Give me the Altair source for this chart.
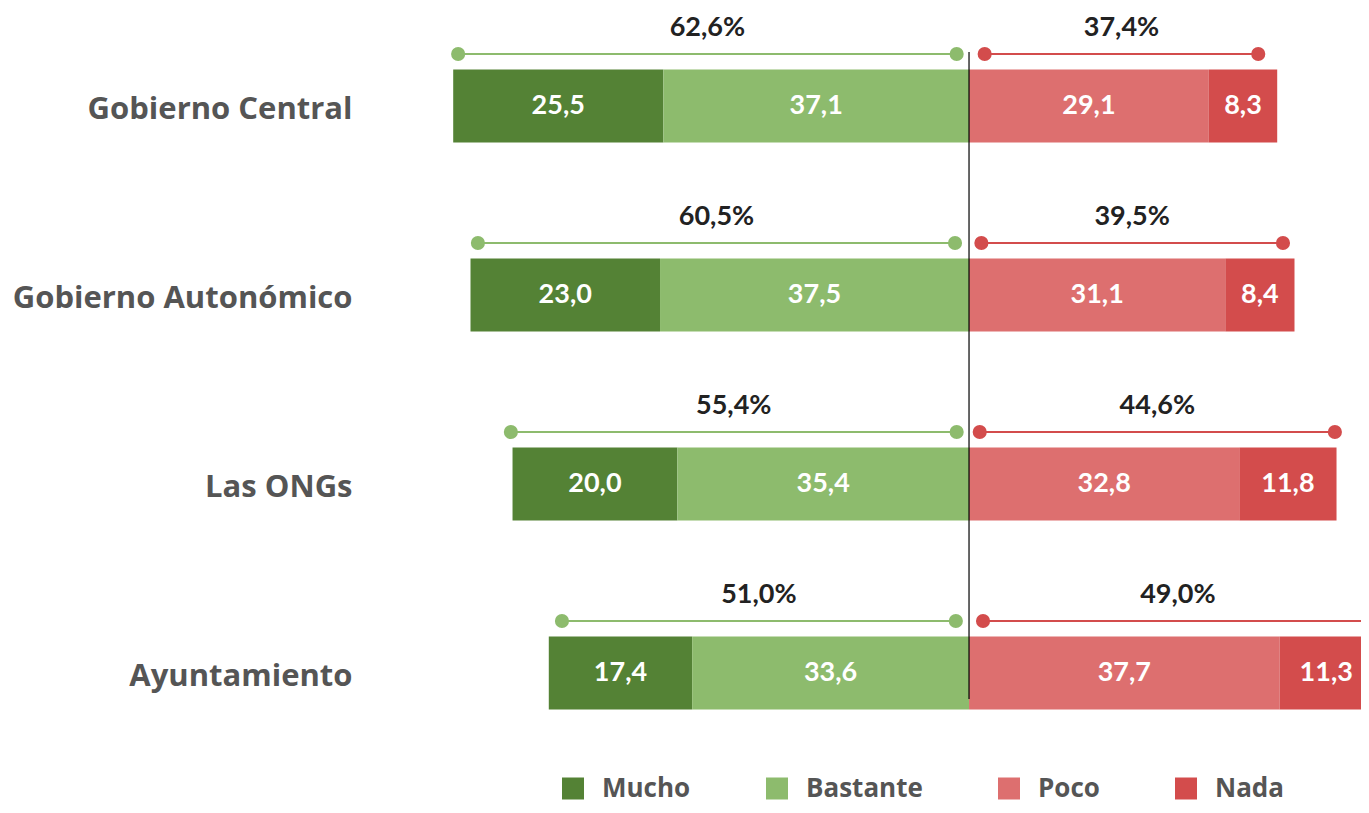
import altair as alt
import pandas as pd

categories = ["Gobierno Central", "Gobierno Autonómico", "Las ONGs", "Ayuntamiento"]
mucho = [25.5, 23.0, 20.0, 17.4]
bastante = [37.1, 37.5, 35.4, 33.6]
poco = [29.1, 31.1, 32.8, 37.7]
nada = [8.3, 8.4, 11.8, 11.3]
pos_totals = [62.6, 60.5, 55.4, 51.0]
neg_totals = [37.4, 39.5, 44.6, 49.0]
# bracket line extents (data units from the centre)
green_start = [62.0, 59.6, 55.6, 49.4]
green_end = [1.5, 1.7, 1.5, 1.6]
red_start = [1.9, 1.5, 1.3, 1.7]
red_end = [35.1, 38.1, 44.4, 49.0]

levels = ["Mucho", "Bastante", "Poco", "Nada"]
colors = ["#548235", "#8DBB6D", "#DD6F6F", "#D34C4C"]
GREEN_LINE = "#8DBB6D"
RED_LINE = "#D34C4C"
FONT = "Lato"
LABEL_FONT = "Open Sans"


def fmt(v):
    return f"{v:.1f}".replace(".", ",")


seg_rows = []
for i, c in enumerate(categories):
    m, b, p, n = mucho[i], bastante[i], poco[i], nada[i]
    for lev, x, x2, v in [
        ("Mucho", -(m + b), -b, m),
        ("Bastante", -b, 0.0, b),
        ("Poco", 0.0, p, p),
        ("Nada", p, p + n, n),
    ]:
        seg_rows.append({"cat": c, "level": lev, "x": x, "x2": x2,
                         "mid": (x + x2) / 2, "label": fmt(v)})
segs = pd.DataFrame(seg_rows)

br_rows = []
dot_rows = []
for i, c in enumerate(categories):
    gx, gx2 = -green_start[i], -green_end[i]
    rx, rx2 = red_start[i], red_end[i]
    br_rows.append({"cat": c, "x": gx, "x2": gx2, "mid": (gx + gx2) / 2,
                    "label": fmt(pos_totals[i]) + "%", "col": GREEN_LINE})
    br_rows.append({"cat": c, "x": rx, "x2": rx2, "mid": (rx + rx2) / 2,
                    "label": fmt(neg_totals[i]) + "%", "col": RED_LINE})
    for xv in (gx, gx2):
        dot_rows.append({"cat": c, "x": xv, "col": GREEN_LINE})
    for xv in (rx, rx2):
        dot_rows.append({"cat": c, "x": xv, "col": RED_LINE})
brackets = pd.DataFrame(br_rows)
dots = pd.DataFrame(dot_rows)

xscale = alt.Scale(domain=[-72.94, 47.57], nice=False, zero=False)
yenc = alt.Y("cat:N", sort=categories, title=None,
             scale=alt.Scale(paddingInner=0, paddingOuter=0),
             axis=alt.Axis(domain=False, ticks=False, labelFontSize=31,
                           labelFont=LABEL_FONT, labelFontWeight="bold",
                           labelColor="#555555", labelPadding=16,
                           labelOffset=4, labelLimit=400))

bars = alt.Chart(segs).mark_bar(size=73, clip=True).encode(
    y=yenc,
    x=alt.X("x:Q", scale=xscale, axis=None),
    x2="x2:Q",
    color=alt.Color("level:N", scale=alt.Scale(domain=levels, range=colors),
                    legend=alt.Legend(orient="none", legendX=192, legendY=764,
                                      direction="horizontal", columns=4,
                                      title=None, symbolType="square",
                                      symbolSize=484, symbolStrokeWidth=0,
                                      symbolOpacity=1,
                                      labelFontSize=26, labelFont=LABEL_FONT,
                                      labelFontWeight="bold",
                                      labelColor="#555555", labelOffset=16,
                                      columnPadding=73, labelLimit=300)),
)

bar_text = alt.Chart(segs).mark_text(color="white", fontSize=27, font=FONT,
                                     fontWeight="bold").encode(
    y=yenc, x=alt.X("mid:Q", scale=xscale, axis=None), text="label:N")

lines = alt.Chart(brackets).mark_rule(strokeWidth=2, yOffset=-52, clip=True).encode(
    y=yenc, x=alt.X("x:Q", scale=xscale, axis=None), x2="x2:Q",
    stroke=alt.Stroke("col:N", scale=None))

pts = alt.Chart(dots).mark_circle(size=200, opacity=1, yOffset=-52, clip=True).encode(
    y=yenc, x=alt.X("x:Q", scale=xscale, axis=None),
    fill=alt.Fill("col:N", scale=None))

pct = alt.Chart(brackets).mark_text(fontSize=27, font=FONT, fontWeight="bold",
                                    color="#222222", yOffset=-78).encode(
    y=yenc, x=alt.X("mid:Q", scale=xscale, axis=None), text="label:N")

center = alt.Chart(pd.DataFrame({"v": [0.0]})).mark_rule(
    color="#000000", strokeWidth=1.2).encode(
    x=alt.X("v:Q", scale=xscale, axis=None),
    y=alt.value(40.5), y2=alt.value(687.5))

chart = alt.layer(bars, bar_text, lines, pts, pct, center).properties(
    width=993, height=756, autosize="none",
    padding={"left": 360, "top": 3.5, "right": 0, "bottom": 32},
).configure_view(stroke=None)

chart.save("out.html", embed_options={"renderer": "svg", "actions": False})
